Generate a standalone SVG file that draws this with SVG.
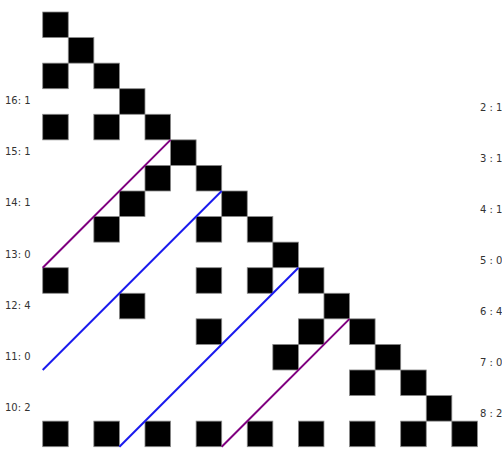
<svg xmlns="http://www.w3.org/2000/svg" width="502" height="449" viewBox="0 0 502 449">
<style>
.cell{fill:#000;stroke:#8a8a8a;stroke-width:0.8}
.lbl{font-family:"DejaVu Sans",sans-serif;font-size:10px;fill:#333}
.p{stroke:#800080;stroke-width:2;fill:none}
.b{stroke:#1a1aee;stroke-width:2;fill:none}
</style>
<rect width="502" height="449" fill="#fff"/>
<defs><rect id="sq" class="cell" width="25.57" height="25.57"/></defs>
<g id="cells">
<g id="r0"><use href="#sq" x="42.7" y="12"/></g>
<g id="r1"><use href="#sq" x="68.27" y="37.57"/></g>
<g id="r2"><use href="#sq" x="42.7" y="63.14"/><use href="#sq" x="93.84" y="63.14"/></g>
<g id="r3"><use href="#sq" x="119.41" y="88.71"/></g>
<g id="r4"><use href="#sq" x="42.7" y="114.28"/><use href="#sq" x="93.84" y="114.28"/><use href="#sq" x="144.98" y="114.28"/></g>
<g id="r5"><use href="#sq" x="170.55" y="139.85"/></g>
<g id="r6"><use href="#sq" x="144.98" y="165.42"/><use href="#sq" x="196.12" y="165.42"/></g>
<g id="r7"><use href="#sq" x="119.41" y="190.99"/><use href="#sq" x="221.69" y="190.99"/></g>
<g id="r8"><use href="#sq" x="93.84" y="216.56"/><use href="#sq" x="196.12" y="216.56"/><use href="#sq" x="247.26" y="216.56"/></g>
<g id="r9"><use href="#sq" x="272.83" y="242.13"/></g>
<g id="r10"><use href="#sq" x="42.7" y="267.7"/><use href="#sq" x="196.12" y="267.7"/><use href="#sq" x="247.26" y="267.7"/><use href="#sq" x="298.4" y="267.7"/></g>
<g id="r11"><use href="#sq" x="119.41" y="293.27"/><use href="#sq" x="323.97" y="293.27"/></g>
<g id="r12"><use href="#sq" x="196.12" y="318.84"/><use href="#sq" x="298.4" y="318.84"/><use href="#sq" x="349.54" y="318.84"/></g>
<g id="r13"><use href="#sq" x="272.83" y="344.41"/><use href="#sq" x="375.11" y="344.41"/></g>
<g id="r14"><use href="#sq" x="349.54" y="369.98"/><use href="#sq" x="400.68" y="369.98"/></g>
<g id="r15"><use href="#sq" x="426.25" y="395.55"/></g>
<g id="r16"><use href="#sq" x="42.7" y="421.12"/><use href="#sq" x="93.84" y="421.12"/><use href="#sq" x="144.98" y="421.12"/><use href="#sq" x="196.12" y="421.12"/><use href="#sq" x="247.26" y="421.12"/><use href="#sq" x="298.4" y="421.12"/><use href="#sq" x="349.54" y="421.12"/><use href="#sq" x="400.68" y="421.12"/><use href="#sq" x="451.82" y="421.12"/></g>
</g>
<g id="connectors">
<line class="p" x1="42.7" y1="267.7" x2="170.55" y2="139.85"/>
<line class="b" x1="42.7" y1="369.98" x2="221.69" y2="190.99"/>
<line class="b" x1="119.41" y1="446.69" x2="298.4" y2="267.7"/>
<line class="p" x1="221.69" y1="446.69" x2="349.54" y2="318.84"/>
</g>
<g id="left-labels" class="lbl">
<text x="5" y="104">16: 1</text>
<text x="5" y="155.3">15: 1</text>
<text x="5" y="206.4">14: 1</text>
<text x="5" y="257.6">13: 0</text>
<text x="5" y="308.7">12: 4</text>
<text x="5" y="359.9">11: 0</text>
<text x="5" y="411">10: 2</text>
</g>
<g id="right-labels" class="lbl">
<text x="480" y="110.5">2 : 1</text>
<text x="480" y="161.7">3 : 1</text>
<text x="480" y="212.8">4 : 1</text>
<text x="480" y="264">5 : 0</text>
<text x="480" y="315.1">6 : 4</text>
<text x="480" y="366.2">7 : 0</text>
<text x="480" y="417.3">8 : 2</text>
</g>
</svg>
